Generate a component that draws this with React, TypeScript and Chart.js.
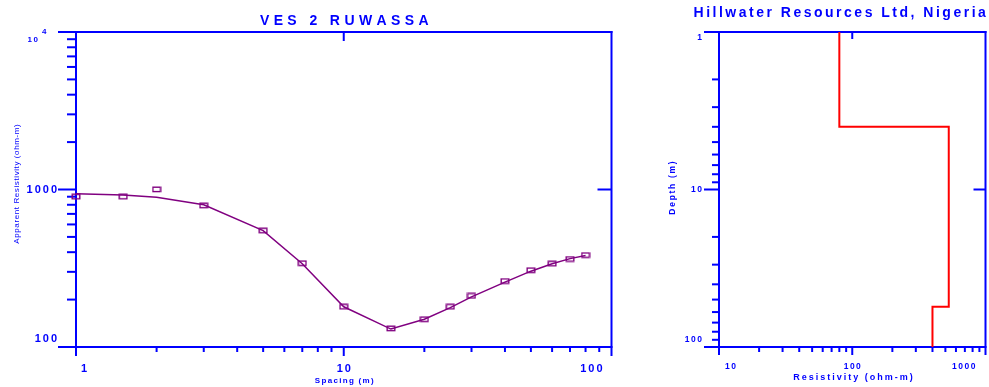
import React, { useEffect, useRef } from 'react';
import { Chart, registerables } from 'chart.js';

Chart.register(...registerables);

// ---------- data: VES sounding curve ----------
const spacingM = [1, 1.5, 2, 3, 5, 7, 10, 15, 20, 25, 30, 40, 50, 60, 70, 80];
const observedRho = [900, 900, 1000, 790, 548, 340, 180, 131, 150, 180, 211, 262, 307, 338, 362, 383];
const modelRho = [940, 922, 892, 800, 548, 338, 180, 130, 150, 178, 208, 258, 303, 338, 364, 381];

const vesXMin = 1;
const vesXMax = 100;
const vesYMin = 100;
const vesYMax = 10000;
const vesXTickValues = [1, 10, 100];
const vesXTickLabels = ['1', '10', '100'];
const vesYTickValues = [100, 1000];
const vesYTickLabels = ['100', '1000'];

// ---------- data: layered earth model ----------
const layerResistivity = [80, 530, 400];
const layerBottomDepth = [4.0, 55.5];
const depthMin = 1;
const depthMax = 100;
const resMin = 10;
const resMax = 1000;
const resTickValues = [10, 100, 1000];
const resTickLabels = ['10', '100', '1000'];
const depthTickValues = [1, 10, 100];
const depthTickLabels = ['1', '10', '100'];

const leftTitle = 'VES 2 RUWASSA';
const rightTitle = 'Hillwater Resources Ltd, Nigeria';
const vesXTitle = 'Spacing (m)';
const vesYTitle = 'Apparent Resistivity (ohm-m)';
const resXTitle = 'Resistivity (ohm-m)';
const depthTitle = 'Depth (m)';

const BLUE = '#0000ff';
const PURPLE = '#800080';
const FONT = '"Liberation Sans", Arial, Helvetica, sans-serif';

function minorLogTicks(min: number, max: number): number[] {
  const out: number[] = [];
  for (let d = min; d < max; d *= 10) {
    for (let k = 2; k <= 9; k++) out.push(d * k);
  }
  return out;
}

function spacedText(
  ctx: CanvasRenderingContext2D,
  text: string,
  x: number,
  y: number,
  align: 'left' | 'center' | 'right',
  sp: number
) {
  const chars = Array.from(text);
  const widths = chars.map((c) => ctx.measureText(c).width);
  const total = widths.reduce((a, b) => a + b, 0) + sp * (chars.length - 1);
  let cx = align === 'left' ? x : align === 'center' ? x - total / 2 : x - total;
  ctx.textAlign = 'left';
  chars.forEach((c, i) => {
    ctx.fillText(c, cx, y);
    cx += widths[i] + sp;
  });
}

function seg(ctx: CanvasRenderingContext2D, x1: number, y1: number, x2: number, y2: number) {
  ctx.beginPath();
  ctx.moveTo(x1, y1);
  ctx.lineTo(x2, y2);
  ctx.stroke();
}

function makeRectMarker(): HTMLCanvasElement {
  const c = document.createElement('canvas');
  c.width = 10;
  c.height = 7;
  const g = c.getContext('2d')!;
  g.strokeStyle = PURPLE;
  g.lineWidth = 1.4;
  g.strokeRect(1.2, 1.2, 7.6, 4.4);
  return c;
}

const vesAxesPlugin = {
  id: 'vesAxes',
  beforeDatasetsDraw(chart: any) {
    const ctx: CanvasRenderingContext2D = chart.ctx;
    const ca = chart.chartArea;
    const xs = chart.scales.x;
    const ys = chart.scales.y;
    ctx.save();
    ctx.strokeStyle = BLUE;
    ctx.lineWidth = 2;
    // frame
    seg(ctx, ca.left - 18, ca.top, ca.right + 1, ca.top);
    seg(ctx, ca.left - 18, ca.bottom, ca.right + 1, ca.bottom);
    seg(ctx, ca.left, ca.top - 1, ca.left, ca.bottom + 9);
    seg(ctx, ca.right, ca.top - 1, ca.right, ca.bottom + 9);
    // y minor ticks
    minorLogTicks(vesYMin, vesYMax).forEach((v) => {
      const py = ys.getPixelForValue(v);
      seg(ctx, ca.left - 9, py, ca.left, py);
    });
    // y major inner
    vesYTickValues.forEach((v) => {
      if (v === vesYMin) return;
      const py = ys.getPixelForValue(v);
      seg(ctx, ca.left - 18, py, ca.left, py);
      seg(ctx, ca.right - 14, py, ca.right, py);
    });
    // x minor ticks
    minorLogTicks(vesXMin, vesXMax).forEach((v) => {
      const px = xs.getPixelForValue(v);
      seg(ctx, px, ca.bottom, px, ca.bottom + 5);
    });
    vesXTickValues.forEach((v) => {
      if (v === vesXMin || v === vesXMax) return;
      const px = xs.getPixelForValue(v);
      seg(ctx, px, ca.bottom, px, ca.bottom + 9);
      seg(ctx, px, ca.top, px, ca.top + 9);
    });

    // labels
    ctx.fillStyle = BLUE;
    ctx.textBaseline = 'middle';
    ctx.font = `bold 11px ${FONT}`;
    vesYTickValues.forEach((v, i) => {
      let py = ys.getPixelForValue(v);
      if (v === vesYMin) py -= 8;
      spacedText(ctx, vesYTickLabels[i], ca.left - 19, py, 'right', 2);
    });
    vesXTickValues.forEach((v, i) => {
      const px = xs.getPixelForValue(v);
      const y = ca.bottom + 22;
      if (i === 0) spacedText(ctx, vesXTickLabels[i], px + 5, y, 'left', 2);
      else if (i === vesXTickValues.length - 1) spacedText(ctx, vesXTickLabels[i], px - 9, y, 'right', 2);
      else spacedText(ctx, vesXTickLabels[i], px, y, 'center', 2);
    });
    // 10^4 label at top
    const pyTop = ys.getPixelForValue(vesYMax);
    ctx.font = `bold 8px ${FONT}`;
    spacedText(ctx, '10', ca.left - 38, pyTop + 8, 'right', 1.5);
    spacedText(ctx, '4', ca.left - 34, pyTop, 'left', 0);

    // titles
    ctx.font = `bold 14px ${FONT}`;
    spacedText(ctx, leftTitle, (ca.left + ca.right) / 2 + 0.5, 21, 'center', 4.4);
    ctx.font = `bold 8px ${FONT}`;
    spacedText(ctx, vesXTitle, (ca.left + ca.right) / 2 + 0.5, 381, 'center', 1.3);
    ctx.save();
    ctx.translate(17, 184);
    ctx.rotate(-Math.PI / 2);
    ctx.font = `8px ${FONT}`;
    spacedText(ctx, vesYTitle, 0, 0, 'center', 0.6);
    ctx.restore();
    ctx.restore();
  },
};

const modelAxesPlugin = {
  id: 'modelAxes',
  beforeDatasetsDraw(chart: any) {
    const ctx: CanvasRenderingContext2D = chart.ctx;
    const ca = chart.chartArea;
    const xs = chart.scales.x;
    const ys = chart.scales.y;
    ctx.save();
    ctx.strokeStyle = BLUE;
    ctx.lineWidth = 2;
    seg(ctx, ca.left - 15, ca.top, ca.right + 1, ca.top);
    seg(ctx, ca.left - 15, ca.bottom, ca.right + 1, ca.bottom);
    seg(ctx, ca.left, ca.top - 1, ca.left, ca.bottom + 8);
    seg(ctx, ca.right, ca.top - 1, ca.right, ca.bottom + 8);
    minorLogTicks(depthMin, depthMax).forEach((v) => {
      const py = ys.getPixelForValue(v);
      seg(ctx, ca.left - 7, py, ca.left, py);
    });
    depthTickValues.forEach((v) => {
      if (v === depthMin || v === depthMax) return;
      const py = ys.getPixelForValue(v);
      seg(ctx, ca.left - 15, py, ca.left, py);
      seg(ctx, ca.right - 12, py, ca.right, py);
    });
    minorLogTicks(resMin, resMax).forEach((v) => {
      const px = xs.getPixelForValue(v);
      seg(ctx, px, ca.bottom, px, ca.bottom + 5);
    });
    resTickValues.forEach((v) => {
      if (v === resMin || v === resMax) return;
      const px = xs.getPixelForValue(v);
      seg(ctx, px, ca.bottom, px, ca.bottom + 8);
      seg(ctx, px, ca.top, px, ca.top + 7);
    });

    ctx.fillStyle = BLUE;
    ctx.textBaseline = 'middle';
    ctx.font = `bold 8.5px ${FONT}`;
    depthTickValues.forEach((v, i) => {
      let py = ys.getPixelForValue(v);
      if (i === 0) py += 6;
      if (i === depthTickValues.length - 1) py -= 7;
      spacedText(ctx, depthTickLabels[i], ca.left - 17, py, 'right', 1.5);
    });
    resTickValues.forEach((v, i) => {
      const px = xs.getPixelForValue(v);
      const y = ca.bottom + 19.5;
      if (i === 0) spacedText(ctx, resTickLabels[i], px + 6, y, 'left', 1.5);
      else if (i === resTickValues.length - 1) spacedText(ctx, resTickLabels[i], px - 10, y, 'right', 1.5);
      else spacedText(ctx, resTickLabels[i], px, y, 'center', 1.5);
    });

    ctx.font = `bold 14px ${FONT}`;
    spacedText(ctx, rightTitle, 839.7 - 640, 13.5, 'center', 2.5);
    ctx.font = `bold 9px ${FONT}`;
    spacedText(ctx, resXTitle, 853 - 640, 378, 'center', 2);
    ctx.save();
    ctx.translate(673 - 640, 188);
    ctx.rotate(-Math.PI / 2);
    ctx.font = `bold 8.5px ${FONT}`;
    spacedText(ctx, depthTitle, 0, 0, 'center', 1.7);
    ctx.restore();
    ctx.restore();
  },
};

function buildLayerSteps() {
  const pts: { x: number; y: number }[] = [];
  let top = depthMin;
  layerResistivity.forEach((r, i) => {
    const bottom = i < layerBottomDepth.length ? layerBottomDepth[i] : depthMax;
    pts.push({ x: r, y: top });
    pts.push({ x: r, y: bottom });
    top = bottom;
  });
  return pts;
}

export default function App() {
  const leftRef = useRef<HTMLCanvasElement>(null);
  const rightRef = useRef<HTMLCanvasElement>(null);

  useEffect(() => {
    document.body.style.margin = '0';
    const marker = makeRectMarker();
    const common: any = {
      responsive: false,
      animation: false,
      devicePixelRatio: 1,
      events: [],
      plugins: { legend: { display: false }, tooltip: { enabled: false }, title: { display: false } },
    };

    const ch1 = new Chart(leftRef.current!, {
      type: 'scatter',
      data: {
        datasets: [
          {
            data: spacingM.map((s, i) => ({ x: s, y: modelRho[i] })),
            showLine: true,
            borderColor: PURPLE,
            borderWidth: 1.5,
            pointRadius: 0,
            clip: false as any,
          },
          {
            data: spacingM.map((s, i) => ({ x: s, y: observedRho[i] })),
            showLine: false,
            pointStyle: marker as any,
            pointRadius: 5,
            borderColor: PURPLE,
            clip: false as any,
          },
        ],
      },
      options: {
        ...common,
        layout: { padding: { left: 76, top: 32, right: 640 - 611.5, bottom: 387 - 347 } },
        scales: {
          x: { type: 'logarithmic', min: vesXMin, max: vesXMax, display: false },
          y: { type: 'logarithmic', min: vesYMin, max: vesYMax, display: false },
        },
      },
      plugins: [vesAxesPlugin],
    });

    const ch2 = new Chart(rightRef.current!, {
      type: 'scatter',
      data: {
        datasets: [
          {
            data: buildLayerSteps(),
            showLine: true,
            borderColor: '#ff0000',
            borderWidth: 2,
            pointRadius: 0,
            clip: false as any,
          },
        ],
      },
      options: {
        ...common,
        layout: { padding: { left: 79, top: 32, right: 349 - 345.5, bottom: 387 - 347 } },
        scales: {
          x: { type: 'logarithmic', min: resMin, max: resMax, display: false },
          y: { type: 'logarithmic', min: depthMin, max: depthMax, reverse: true, display: false },
        },
      },
      plugins: [modelAxesPlugin],
    });

    return () => {
      ch1.destroy();
      ch2.destroy();
    };
  }, []);

  return (
    <div style={{ position: 'relative', width: 989, height: 387, background: '#ffffff' }}>
      <canvas
        ref={leftRef}
        width={640}
        height={387}
        style={{ position: 'absolute', left: 0, top: 0, width: 640, height: 387 }}
      />
      <canvas
        ref={rightRef}
        width={349}
        height={387}
        style={{ position: 'absolute', left: 640, top: 0, width: 349, height: 387 }}
      />
    </div>
  );
}
